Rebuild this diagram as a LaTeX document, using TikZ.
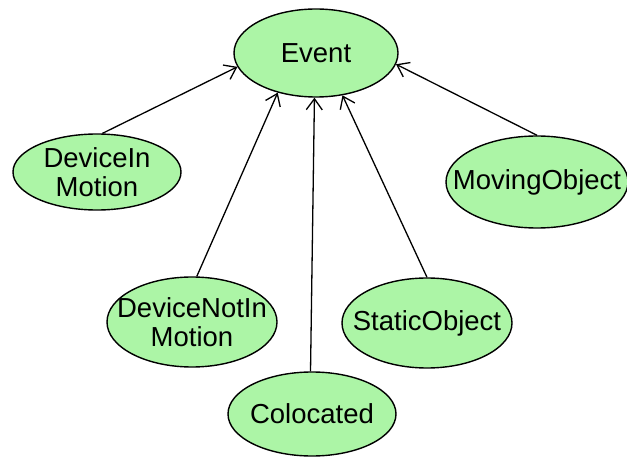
\documentclass[tikz,border=0pt]{standalone}
\usepackage{fontspec}
\setmainfont{Liberation Sans}
\usetikzlibrary{shapes.geometric,arrows.meta}
\definecolor{nodegreen}{RGB}{172,245,166}
\tikzset{
  cls/.style={ellipse, draw=black, line width=1.4pt, fill=nodegreen, inner sep=0pt,
    label={[align=center, inner sep=0pt, font=\fontsize{27.5}{28.5}\selectfont]center:#1}},
  isa/.style={draw=black, line width=1.3pt, -{Straight Barb[length=11pt,width=16pt,line width=1.3pt]}}
}
\begin{document}
\begin{tikzpicture}[x=1pt,y=-1pt]
\useasboundingbox (0,0) rectangle (627,457);
\node[cls={Event}, minimum width=164pt, minimum height=88pt] (event) at (316,53) {};
\node[cls={DeviceIn\\Motion}, minimum width=168pt, minimum height=76pt] (dim) at (97,172) {};
\node[cls={MovingObject}, minimum width=182pt, minimum height=92pt] (mov) at (537,182) {};
\node[cls={DeviceNotIn\\Motion}, minimum width=170pt, minimum height=90pt] (dnim) at (192,322) {};
\node[cls={StaticObject}, minimum width=170pt, minimum height=90pt] (stat) at (427,323) {};
\node[cls={Colocated}, minimum width=168pt, minimum height=84pt] (col) at (312,414) {};
\draw[isa] (dim.82) -- (event.190);
\draw[isa] (mov.north) -- (event.352);
\draw[isa] (dnim.84) -- (event.226);
\draw[isa] (col.92) -- (event.268);
\draw[isa] (stat.north) -- (event.302);
\end{tikzpicture}
\end{document}
